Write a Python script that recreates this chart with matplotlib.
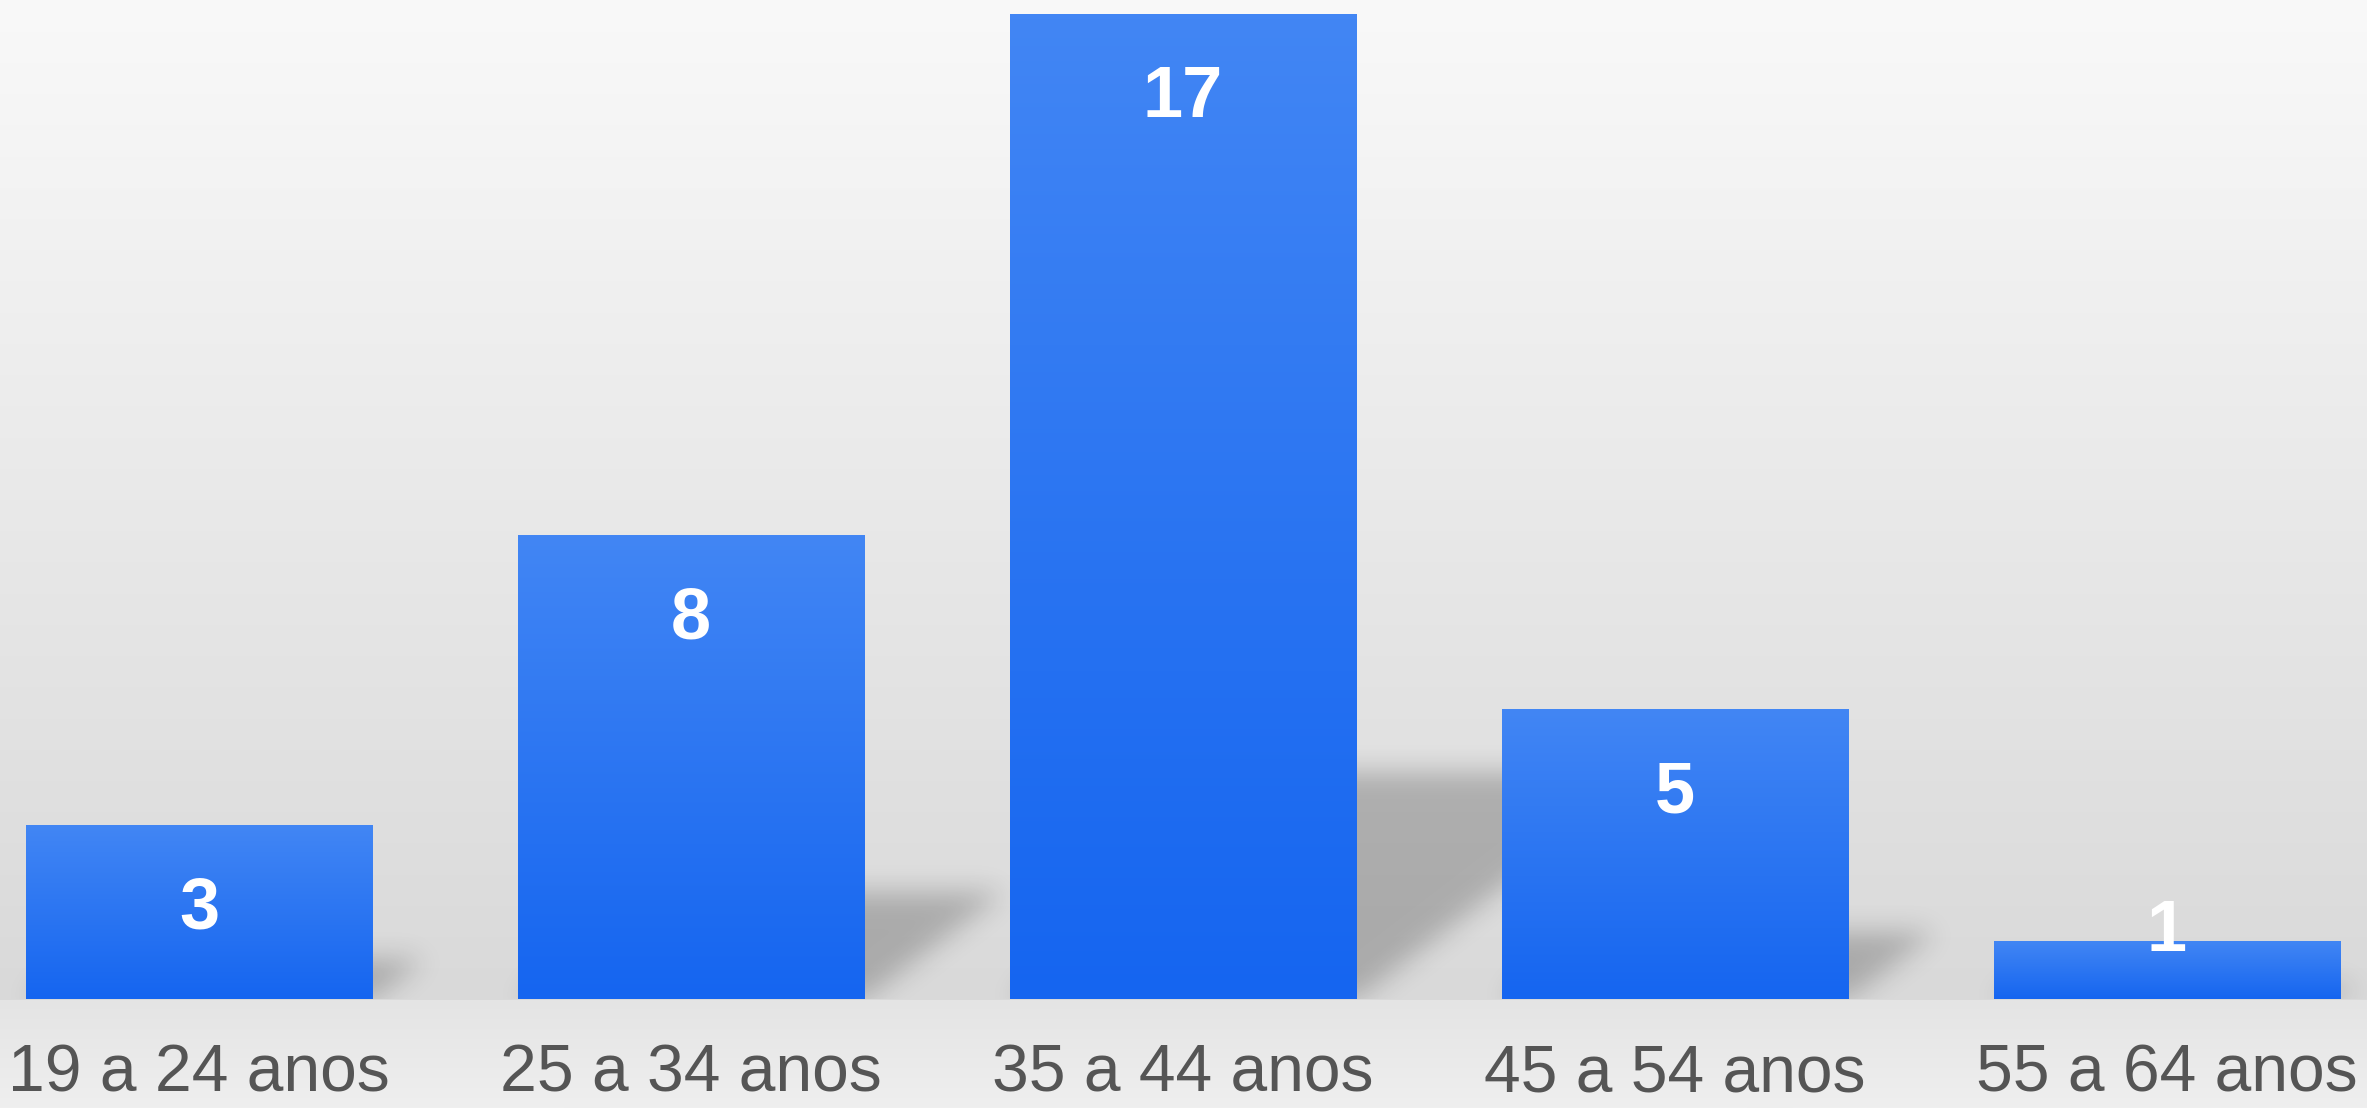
import numpy as np
import matplotlib
matplotlib.use("Agg")
import matplotlib.pyplot as plt
from matplotlib.path import Path
from matplotlib.colors import LinearSegmentedColormap, to_rgb

categories = ["19 a 24 anos", "25 a 34 anos", "35 a 44 anos", "45 a 54 anos", "55 a 64 anos"]
values = [3, 8, 17, 5, 1]

W, H = 2367, 1108
DPI = 100
BASE = 999  # baseline pixel row from top
fig = plt.figure(figsize=(W / DPI, H / DPI), dpi=DPI)

# ---- background gradient ----
bg = fig.add_axes([0, 0, 1, 1], zorder=-10)
bg.set_axis_off()
top_c = np.array(to_rgb("#f9f9f9"))
mid_c = np.array(to_rgb("#d9d9d9"))
low_c = np.array(to_rgb("#e4e4e4"))
bot_c = np.array(to_rgb("#efefef"))
img = np.zeros((H, 1, 3))
for r in range(H):
    if r <= BASE:
        t = r / BASE
        img[r, 0] = top_c + (mid_c - top_c) * t
    else:
        t = (r - BASE) / (H - 1 - BASE)
        img[r, 0] = low_c + (bot_c - low_c) * t
bg.imshow(img, aspect="auto", extent=[0, 1, 0, 1], interpolation="bilinear")
bg.set_xlim(0, 1)
bg.set_ylim(0, 1)

# ---- main axes ----
ax = fig.add_axes([0, (H - BASE) / H, 1, BASE / H])
ax.patch.set_alpha(0)
ax.set_axis_off()
pitch_px = 492.0
first_px = 199.0
xlim = (-first_px / pitch_px, (W - first_px) / pitch_px)
unit_px = 57.96
ylim = (0, BASE / unit_px)

x = np.arange(len(categories))
bars = ax.bar(x, values, width=0.705, color="none", edgecolor="none", zorder=3)

cmap = LinearSegmentedColormap.from_list("g", ["#1565f0", "#4286f4"])
grad = np.linspace(0, 1, 256).reshape(-1, 1)
for b in bars:
    x0 = b.get_x()
    w = b.get_width()
    h = b.get_height()
    im = ax.imshow(grad, extent=[x0, x0 + w, 0, h], origin="lower", aspect="auto",
                   cmap=cmap, zorder=3, interpolation="bilinear")
    im.set_clip_path(b)

ax.set_xlim(*xlim)
ax.set_ylim(*ylim)

# ---- shadows ----
nx, ny = W, BASE
ppx = nx / (xlim[1] - xlim[0])
ppy = ny / (ylim[1] - ylim[0])
xs = xlim[0] + (np.arange(nx) + 0.5) / ppx
ys = ylim[0] + (np.arange(ny) + 0.5) / ppy
XX, YY = np.meshgrid(xs, ys)
pts = np.column_stack([XX.ravel(), YY.ravel()])
mask = np.zeros(nx * ny)
for b, v in zip(bars, values):
    x0 = b.get_x()
    x1 = x0 + b.get_width()
    hpx = v * ppy
    dx = 0.30 * hpx / ppx
    dy = 0.23 * v
    poly = Path([(x0, 0), (x1, 0), (x1 + dx, dy), (x0 + dx, dy), (x0, 0)])
    mask = np.maximum(mask, poly.contains_points(pts).astype(float))
mask = mask.reshape(ny, nx)
sig = 13.0
kx = np.arange(-42, 43)
ker = np.exp(-0.5 * (kx / sig) ** 2)
ker /= ker.sum()
blur = np.array([np.convolve(row, ker, mode="same") for row in mask])
blur = np.array([np.convolve(col, ker, mode="same") for col in blur.T]).T
rgba = np.zeros((ny, nx, 4))
rgba[..., 3] = 0.22 * blur
ax.imshow(rgba, extent=[xlim[0], xlim[1], ylim[0], ylim[1]], origin="lower",
          aspect="auto", zorder=1, interpolation="nearest")
ax.set_xlim(*xlim)
ax.set_ylim(*ylim)

# ---- labels ----
for b, v in zip(bars, values):
    cx = b.get_x() + b.get_width() / 2
    hpx = v * ppy
    off = -103 if hpx > 100 else -10
    ax.annotate(str(v), xy=(cx, v), xytext=(0, off), textcoords="offset pixels",
                ha="center", va="baseline", color="white", fontsize=52,
                fontweight="bold", family="Liberation Sans", zorder=6)

for i, c in enumerate(categories):
    ax.annotate(c, xy=(x[i], 0), xytext=(0, -(H - BASE - 2)), textcoords="offset pixels",
                ha="center", va="bottom", color="#555555", fontsize=47.5,
                family="Liberation Sans", annotation_clip=False, zorder=6)

fig.savefig("out.png", dpi=DPI)
